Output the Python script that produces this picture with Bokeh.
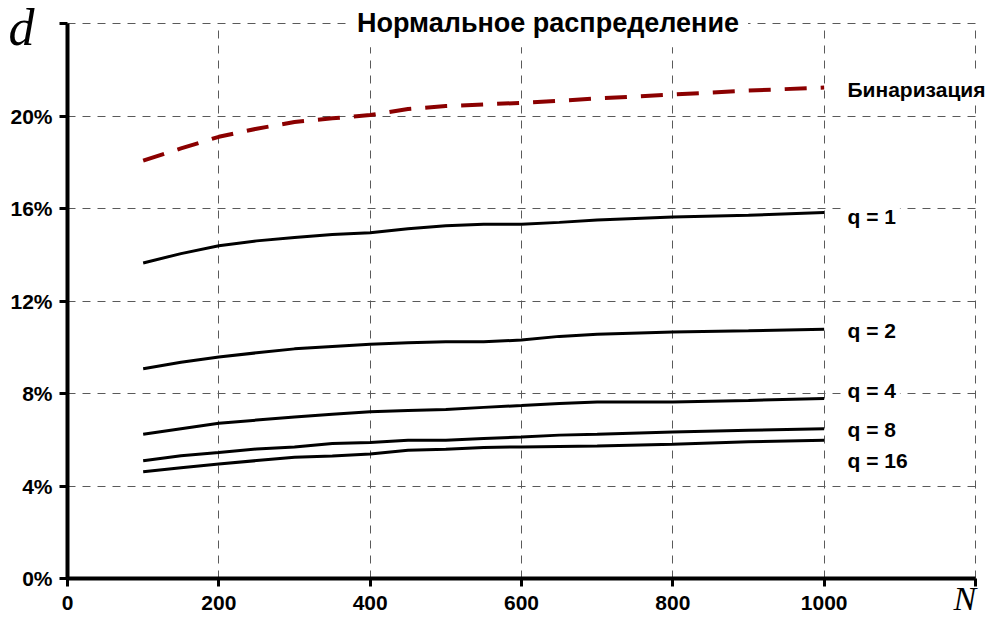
from bokeh.plotting import figure
from bokeh.models import Label, FixedTicker, PrintfTickFormatter, Range1d
from bokeh.embed import file_html
from bokeh.resources import INLINE

# ---- data ----
N = [100, 150, 200, 250, 300, 350, 400, 450, 500, 550, 600, 650, 700, 800, 900, 1000]
binar = [18.07, 18.6, 19.1, 19.45, 19.74, 19.9, 20.04, 20.3, 20.43, 20.5, 20.57, 20.66, 20.76, 20.93, 21.1, 21.23]
q1 = [13.64, 14.05, 14.39, 14.6, 14.75, 14.88, 14.95, 15.12, 15.25, 15.32, 15.32, 15.4, 15.5, 15.63, 15.71, 15.83]
q2 = [9.07, 9.35, 9.58, 9.76, 9.93, 10.03, 10.13, 10.19, 10.24, 10.24, 10.31, 10.47, 10.56, 10.66, 10.71, 10.78]
q4 = [6.24, 6.48, 6.71, 6.85, 6.98, 7.1, 7.21, 7.27, 7.31, 7.4, 7.48, 7.57, 7.63, 7.63, 7.7, 7.78]
q8 = [5.09, 5.31, 5.45, 5.6, 5.69, 5.84, 5.88, 5.98, 5.98, 6.05, 6.12, 6.2, 6.24, 6.34, 6.41, 6.48]
q16 = [4.62, 4.79, 4.95, 5.1, 5.24, 5.3, 5.38, 5.55, 5.59, 5.67, 5.69, 5.71, 5.73, 5.81, 5.91, 5.98]

x_ticks = [0, 200, 400, 600, 800, 1000, 1200]
y_ticks = [0, 4, 8, 12, 16, 20, 24]
title_text = "Нормальное распределение"
series_labels = ["Бинаризация", "q = 1", "q = 2", "q = 4", "q = 8", "q = 16"]
series_label_level = [20.82, 15.33, 10.39, 7.77, 6.10, 4.77]   # baseline level (%)

FONT = "Liberation Sans"
W, H = 987, 619
# pixel geometry of the plotting area (axes at x=0 / y=0, top 24%, right 1200)
X0, X1, Y0, Y1 = 67, 975, 578, 23
sx = (X1 - X0) / 1200.0
sy = (Y0 - Y1) / 24.0
BL = 0.38  # baseline correction (em)

p = figure(width=W, height=H, output_backend="svg", toolbar_location=None,
           x_range=Range1d(-X0 / sx, (W - X0) / sx),
           y_range=Range1d((Y0 - H) / sy, Y0 / sy),
           min_border=0)
p.outline_line_color = None
p.background_fill_color = "white"

for ax in (p.xaxis[0], p.yaxis[0]):
    ax.fixed_location = 0
    ax.axis_line_width = 4
    ax.axis_line_color = "black"
    ax.major_tick_line_width = 3
    ax.major_tick_line_color = "black"
    ax.major_tick_out = 8
    ax.major_tick_in = 0
    ax.minor_tick_line_color = None
    ax.major_label_text_font = FONT
    ax.major_label_text_font_style = "bold"
    ax.major_label_text_font_size = "21px"
    ax.major_label_text_color = "black"

p.xaxis[0].bounds = (0, 1200)
p.yaxis[0].bounds = (0, 24)
p.xaxis[0].ticker = FixedTicker(ticks=x_ticks)
p.yaxis[0].ticker = FixedTicker(ticks=y_ticks)
p.yaxis[0].formatter = PrintfTickFormatter(format="%d%%")
p.xaxis[0].major_label_overrides = {1200: ""}
p.yaxis[0].major_label_overrides = {24: ""}
p.xaxis[0].major_label_standoff = 9
p.yaxis[0].major_label_standoff = 7

for g in (p.xgrid[0], p.ygrid[0]):
    g.grid_line_color = "#5a5a5a"
    g.grid_line_width = 1
    g.grid_line_dash = "8 7"
p.xgrid[0].ticker = FixedTicker(ticks=x_ticks)
p.ygrid[0].ticker = FixedTicker(ticks=y_ticks)
p.xgrid[0].bounds = (0, 1200)
p.xgrid[0].cross_bounds = (0, 24)
p.ygrid[0].bounds = (0, 24)
p.ygrid[0].cross_bounds = (0, 1200)

p.line(N, binar, line_color="#8b0000", line_width=4, line_dash="22 14")
for s in (q1, q2, q4, q8, q16):
    p.line(N, s, line_color="black", line_width=3)

def px_to_x(px):
    return (px - X0) / sx

def px_to_y(py):
    return (Y0 - py) / sy

# title
p.add_layout(Label(x=px_to_x(547.5), y=px_to_y(33 - BL * 27), text=title_text, text_align="center",
                   text_baseline="alphabetic", text_font=FONT, text_font_style="bold",
                   text_font_size="27px", text_color="black",
                   background_fill_color="white", padding=9))

# series labels
for t, lv in zip(series_labels, series_label_level):
    p.add_layout(Label(x=px_to_x(843), y=lv + BL * 21 / sy, text=t, text_align="left",
                       text_baseline="alphabetic", text_font=FONT, text_font_style="bold",
                       text_font_size="21px", text_color="black",
                       background_fill_color="white", padding=4))

# axis names
p.add_layout(Label(x=px_to_x(8), y=px_to_y(47 - BL * 52), text="d", text_align="left",
                   text_baseline="alphabetic", text_font="Liberation Serif",
                   text_font_style="italic", text_font_size="52px", text_color="black"))
p.add_layout(Label(x=px_to_x(953), y=px_to_y(611 - BL * 34), text="N", text_align="left",
                   text_baseline="alphabetic", text_font="Liberation Serif",
                   text_font_style="italic", text_font_size="34px", text_color="black"))

open("out.html", "w").write(file_html(p, INLINE))
